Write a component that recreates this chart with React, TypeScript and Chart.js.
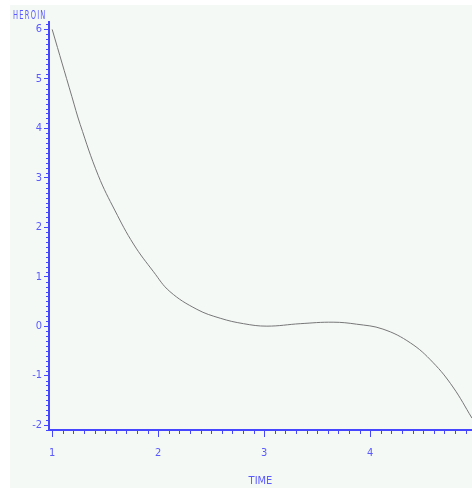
import React, { useEffect, useRef } from "react";
import { Chart, registerables } from "chart.js";

Chart.register(...registerables);

// Fitted HEROIN level over TIME
const timeValues = [
  1.0, 1.186, 1.264, 1.434, 1.594, 1.767, 1.956, 2.11, 2.365, 2.585, 2.805,
  3.025, 3.34, 3.65, 3.87, 4.12, 4.38, 4.59, 4.78, 4.96,
];
const heroinValues = [
  6.0, 4.64, 4.08, 3.05, 2.33, 1.66, 1.1, 0.7, 0.34, 0.16, 0.05, 0.0, 0.05,
  0.08, 0.04, -0.06, -0.34, -0.73, -1.23, -1.86,
];

const xRange = { min: 0.97, max: 4.96 };
const yRange = { min: -2.1, max: 6.15 };

const AXIS_BLUE = "#4646ff";
const LABEL_BLUE = "#5a5aff";
const PANEL_BG = "#f4f9f6";
const FONT = "'DejaVu Sans Condensed', 'Liberation Sans Narrow', sans-serif";

const backdrop = {
  id: "backdrop",
  beforeDraw(chart: Chart) {
    const ctx = chart.ctx;
    ctx.save();
    ctx.fillStyle = PANEL_BG;
    ctx.fillRect(10, 5, chart.width - 10, 483);
    ctx.restore();
  },
};

// minor ticks every 0.1 and the vertical axis caption
const minorTicks = {
  id: "minorTicks",
  afterDraw(chart: Chart) {
    const ctx = chart.ctx;
    const xs = chart.scales.x;
    const ys = chart.scales.y;
    const area = chart.chartArea;
    ctx.save();
    ctx.strokeStyle = AXIS_BLUE;
    ctx.lineWidth = 1;
    ctx.beginPath();
    for (let i = Math.ceil(xs.min * 10); i <= Math.floor(xs.max * 10); i++) {
      if (i % 10 === 0) continue;
      const px = Math.round(xs.getPixelForValue(i / 10)) + 0.5;
      ctx.moveTo(px, area.bottom);
      ctx.lineTo(px, area.bottom + 4);
    }
    for (let i = Math.ceil(ys.min * 10); i <= Math.floor(ys.max * 10); i++) {
      if (i % 10 === 0) continue;
      const py = Math.round(ys.getPixelForValue(i / 10)) + 0.5;
      ctx.moveTo(area.left - 3, py);
      ctx.lineTo(area.left, py);
    }
    ctx.stroke();

    // narrow, tall caption above the vertical axis
    ctx.fillStyle = LABEL_BLUE;
    ctx.font = `12px ${FONT}`;
    (ctx as any).letterSpacing = "2px";
    ctx.textBaseline = "alphabetic";
    ctx.textAlign = "left";
    ctx.translate(13, 19);
    ctx.scale(0.62, 1);
    ctx.fillText("HEROIN", 0, 0);
    ctx.restore();
  },
};

export default function App() {
  const canvasRef = useRef<HTMLCanvasElement | null>(null);

  useEffect(() => {
    if (!canvasRef.current) return;
    const chart = new Chart(canvasRef.current, {
      type: "line",
      data: {
        datasets: [
          {
            data: timeValues.map((t, i) => ({ x: t, y: heroinValues[i] })),
            borderColor: "#777777",
            borderWidth: 1,
            pointRadius: 0,
            tension: 0.4,
            fill: false,
          },
        ],
      },
      options: {
        animation: false,
        responsive: false,
        layout: { padding: { top: 22, left: 0, right: 0, bottom: 0 } },
        plugins: {
          legend: { display: false },
          tooltip: { enabled: false },
        },
        scales: {
          x: {
            type: "linear",
            min: xRange.min,
            max: xRange.max,
            afterFit: (s: any) => {
              s.height = 60;
            },
            border: { color: AXIS_BLUE, width: 2 },
            grid: {
              drawOnChartArea: false,
              drawTicks: true,
              tickLength: 7,
              color: AXIS_BLUE,
            },
            ticks: {
              stepSize: 1,
              includeBounds: false,
              color: LABEL_BLUE,
              font: { family: FONT, size: 11 },
              padding: 10,
              maxRotation: 0,
              callback: (v: any) => String(v),
            },
            title: {
              display: true,
              text: "TIME",
              color: LABEL_BLUE,
              font: { family: FONT, size: 11 },
              padding: { top: 0, bottom: 2 },
            },
          },
          y: {
            type: "linear",
            min: yRange.min,
            max: yRange.max,
            afterFit: (s: any) => {
              s.width = 49;
            },
            border: { color: AXIS_BLUE, width: 2 },
            grid: {
              drawOnChartArea: false,
              drawTicks: true,
              tickLength: 5,
              color: AXIS_BLUE,
            },
            ticks: {
              stepSize: 1,
              includeBounds: false,
              color: LABEL_BLUE,
              font: { family: FONT, size: 11 },
              padding: 2,
              callback: (v: any) => String(v),
            },
          },
        },
      },
      plugins: [backdrop, minorTicks],
    });
    return () => chart.destroy();
  }, []);

  return (
    <div style={{ position: "absolute", left: 0, top: 0, width: 472, height: 490 }}>
      <canvas ref={canvasRef} width={472} height={490} />
    </div>
  );
}
